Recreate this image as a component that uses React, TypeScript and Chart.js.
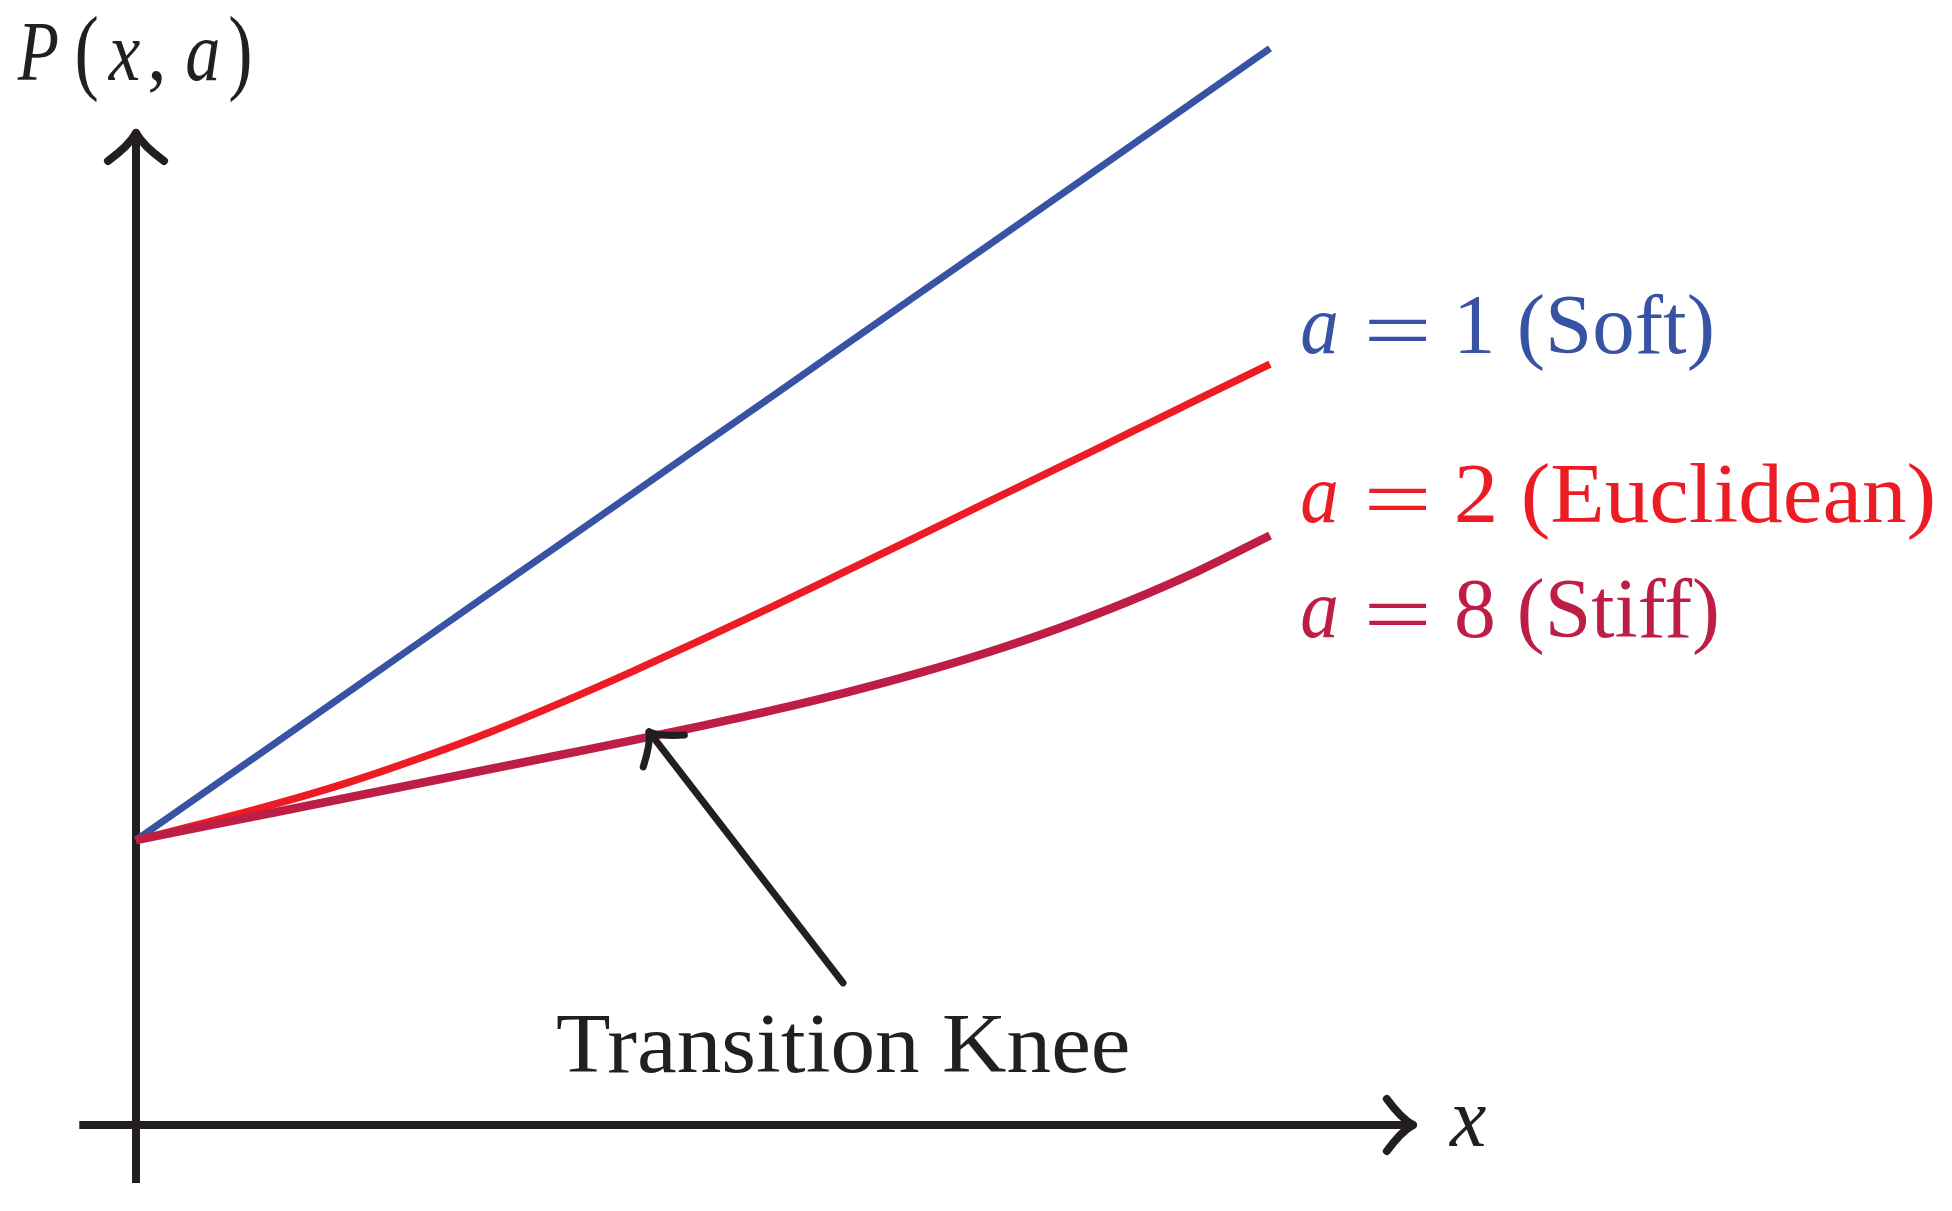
import React, { useEffect, useRef } from 'react';
import { Chart, registerables } from 'chart.js';

Chart.register(...registerables);

// ---- data (in chart units) ----
const xValues = [0, 0.25, 0.5, 0.75, 1, 1.25, 1.5, 1.75, 2, 2.25, 2.5, 2.75, 3, 3.25, 3.5, 3.75, 4];
const softValues = [1.0, 1.174, 1.347, 1.521, 1.695, 1.869, 2.042, 2.216, 2.39, 2.563, 2.737, 2.911, 3.084, 3.258, 3.432, 3.606, 3.78];
const euclideanValues = [1.0, 1.0625, 1.129, 1.203, 1.2875, 1.38, 1.483, 1.592, 1.706, 1.823, 1.943, 2.0635, 2.185, 2.306, 2.428, 2.55, 2.6715];
const stiffValues = [1.0, 1.05, 1.1, 1.15, 1.2, 1.25, 1.3, 1.3503, 1.4022, 1.4573, 1.5173, 1.5838, 1.6583, 1.7426, 1.8382, 1.9468, 2.07];

const seriesNames = ['1 (Soft)', '2 (Euclidean)', '8 (Stiff)'];
const xAxisLabel = 'x';
const kneeLabel = 'Transition Knee';

// axis extents and knee arrow, in chart units
const xAxisRange = [-0.2, 4.504];
const yAxisRange = [-0.204, 3.483];
const kneeTail = [2.494, 0.499];
const kneeTip = [1.81, 1.38];

const BLUE = '#3953A4';
const RED = '#ED1C24';
const CRIMSON = '#BE1E45';
const INK = '#231F20';
const SERIF = '"Liberation Serif", "Times New Roman", serif';

function drawInk(
  ctx: CanvasRenderingContext2D,
  text: string,
  font: string,
  color: string,
  left: number,
  right: number,
  baseline: number,
  top?: number,
  bottom?: number
) {
  ctx.save();
  ctx.font = font;
  ctx.textAlign = 'left';
  ctx.textBaseline = 'alphabetic';
  const m = ctx.measureText(text);
  const inkW = m.actualBoundingBoxLeft + m.actualBoundingBoxRight;
  const sx = inkW > 0 ? (right - left) / inkW : 1;
  let sy = 1;
  let by = baseline;
  if (top !== undefined && bottom !== undefined) {
    const inkH = m.actualBoundingBoxAscent + m.actualBoundingBoxDescent;
    sy = (bottom - top) / inkH;
    by = top + m.actualBoundingBoxAscent * sy;
  }
  ctx.translate(left + m.actualBoundingBoxLeft * sx, by);
  ctx.scale(sx, sy);
  ctx.fillStyle = color;
  ctx.fillText(text, 0, 0);
  ctx.restore();
}

function arrowHead(
  ctx: CanvasRenderingContext2D,
  tipX: number,
  tipY: number,
  dirX: number,
  dirY: number,
  L: number,
  W: number
) {
  const len = Math.hypot(dirX, dirY);
  const dx = dirX / len;
  const dy = dirY / len;
  const px = -dy;
  const py = dx;
  for (const s of [1, -1]) {
    const ex = tipX - dx * L + px * W * s;
    const ey = tipY - dy * L + py * W * s;
    const cx = tipX - dx * L * 0.45 + px * W * 0.25 * s;
    const cy = tipY - dy * L * 0.45 + py * W * 0.25 * s;
    ctx.beginPath();
    ctx.moveTo(ex, ey);
    ctx.quadraticCurveTo(cx, cy, tipX, tipY);
    ctx.stroke();
  }
}

const decorPlugin = {
  id: 'decor',
  beforeDatasetsDraw(chart: any) {
    const ctx: CanvasRenderingContext2D = chart.ctx;
    const xs = chart.scales.x;
    const ys = chart.scales.y;
    const x0 = xs.getPixelForValue(0);
    const y0 = ys.getPixelForValue(0);
    ctx.save();
    ctx.strokeStyle = INK;
    ctx.lineWidth = 8;
    ctx.lineCap = 'butt';
    const xa = xs.getPixelForValue(xAxisRange[0]);
    const xb = xs.getPixelForValue(xAxisRange[1]);
    ctx.beginPath();
    ctx.moveTo(xa, y0);
    ctx.lineTo(xb - 3, y0);
    ctx.stroke();
    const ya = ys.getPixelForValue(yAxisRange[0]);
    const yb = ys.getPixelForValue(yAxisRange[1]);
    ctx.beginPath();
    ctx.moveTo(x0, ya);
    ctx.lineTo(x0, yb + 3);
    ctx.stroke();
    ctx.lineCap = 'round';
    ctx.lineWidth = 8;
    arrowHead(ctx, xb, y0, 1, 0, 26, 26);
    arrowHead(ctx, x0, yb, 0, -1, 28, 28);
    ctx.restore();
  },
  afterDatasetsDraw(chart: any) {
    const ctx: CanvasRenderingContext2D = chart.ctx;
    const xs = chart.scales.x;
    const ys = chart.scales.y;
    const tx = xs.getPixelForValue(kneeTail[0]);
    const ty = ys.getPixelForValue(kneeTail[1]);
    const hx = xs.getPixelForValue(kneeTip[0]);
    const hy = ys.getPixelForValue(kneeTip[1]);
    ctx.save();
    ctx.strokeStyle = INK;
    ctx.lineWidth = 7;
    ctx.lineCap = 'round';
    ctx.beginPath();
    ctx.moveTo(tx, ty);
    ctx.lineTo(hx, hy);
    ctx.stroke();
    arrowHead(ctx, hx, hy, hx - tx, hy - ty, 24, 26);
    ctx.restore();

    const up = `84px ${SERIF}`;
    const it = `italic 84px ${SERIF}`;

    // y-axis label P(x, a)
    drawInk(ctx, 'P', it, INK, 17, 58, 80);
    drawInk(ctx, '(', up, INK, 77, 97, 0, 15, 103);
    drawInk(ctx, 'x', it, INK, 107, 140, 80);
    drawInk(ctx, ',', up, INK, 150, 162, 80);
    drawInk(ctx, 'a', it, INK, 187, 218, 80);
    drawInk(ctx, ')', up, INK, 230, 250, 0, 15, 103);

    // x-axis label
    drawInk(ctx, xAxisLabel, it, INK, 1448, 1486, 1146);

    // series labels
    const rows = [
      { color: BLUE, base: 353, right: 1712, numLeft: 1460 },
      { color: RED, base: 522, right: 1933, numLeft: 1457 },
      { color: CRIMSON, base: 637, right: 1717, numLeft: 1457 },
    ];
    rows.forEach((r, i) => {
      drawInk(ctx, 'a', it, r.color, 1302, 1336, r.base);
      drawInk(ctx, '=', up, r.color, 1369, 1427, 0, r.base - 34, r.base - 12);
      drawInk(ctx, seriesNames[i], up, r.color, r.numLeft, r.right, r.base);
    });

    // knee annotation
    drawInk(ctx, kneeLabel, up, INK, 557, 1128, 1072);
  },
};

export default function App() {
  const canvasRef = useRef<HTMLCanvasElement | null>(null);

  useEffect(() => {
    const canvas = canvasRef.current;
    if (!canvas) return;
    const mk = (vals: number[]) => xValues.map((x, i) => ({ x, y: vals[i] }));
    const chart = new Chart(canvas, {
      type: 'line',
      data: {
        datasets: [
          {
            label: 'a = 8 (Stiff)',
            data: mk(stiffValues),
            borderColor: CRIMSON,
            borderWidth: 8.5,
            pointRadius: 0,
            cubicInterpolationMode: 'monotone',
            clip: false,
            order: 0,
          },
          {
            label: 'a = 2 (Euclidean)',
            data: mk(euclideanValues),
            borderColor: RED,
            borderWidth: 7.5,
            pointRadius: 0,
            cubicInterpolationMode: 'monotone',
            clip: false,
            order: 1,
          },
          {
            label: 'a = 1 (Soft)',
            data: mk(softValues),
            borderColor: BLUE,
            borderWidth: 7,
            pointRadius: 0,
            tension: 0,
            clip: false,
            order: 2,
          },
        ],
      } as any,
      options: {
        animation: false,
        responsive: false,
        devicePixelRatio: 1,
        layout: { padding: { left: 136, right: 682, top: 0, bottom: 86 } },
        plugins: { legend: { display: false }, tooltip: { enabled: false } },
        scales: {
          x: { type: 'linear', min: 0, max: 4, display: false },
          y: { type: 'linear', min: 0, max: 3.95, display: false },
        },
      } as any,
      plugins: [decorPlugin],
    });
    return () => chart.destroy();
  }, []);

  return (
    <div style={{ position: 'absolute', left: 0, top: 0, width: 1952, height: 1211, background: '#ffffff' }}>
      <canvas ref={canvasRef} width={1952} height={1211} style={{ display: 'block' }} />
    </div>
  );
}
